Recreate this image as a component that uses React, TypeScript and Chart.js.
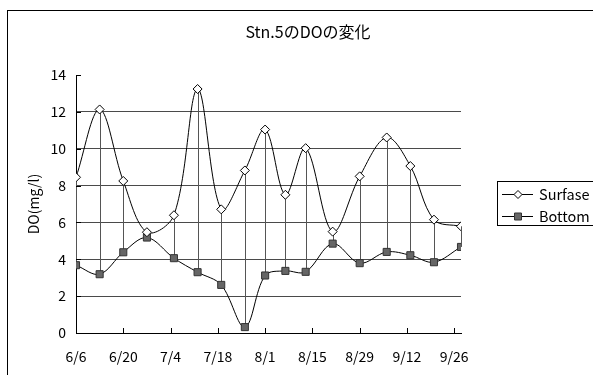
import { useEffect, useRef } from "react";
import { Chart, registerables } from "chart.js";

Chart.register(...registerables);

const TITLE = "Stn.5のDOの変化";
const Y_TITLE = "DO(mg/l)";
const SERIES_NAMES = ["Surfase", "Bottom"];

// sampling dates (month/day) and dissolved oxygen readings, mg/l
const sampleDates = ["6/6", "6/13", "6/20", "6/27", "7/5", "7/12", "7/19", "7/26", "8/1", "8/7", "8/13", "8/21", "8/29", "9/6", "9/13", "9/20", "9/28"];
const surfaceDO = [8.45, 12.13, 8.25, 5.47, 6.39, 13.24, 6.71, 8.82, 11.04, 7.5, 10.03, 5.5, 8.5, 10.61, 9.06, 6.15, 5.79];
const bottomDO = [3.68, 3.19, 4.38, 5.18, 4.06, 3.3, 2.61, 0.32, 3.12, 3.37, 3.32, 4.85, 3.79, 4.4, 4.22, 3.84, 4.67];

const xTickLabels = ["6/6", "6/20", "7/4", "7/18", "8/1", "8/15", "8/29", "9/12", "9/26"];
const Y_MIN = 0;
const Y_MAX = 14;
const Y_STEP = 2;

const FONT_FAMILY = "'Noto Sans CJK JP', 'Noto Sans', sans-serif";

// day offset from the first sampling date
const dayOf = (md: string) => {
  const [m, d] = md.split("/").map(Number);
  const [m0, d0] = sampleDates[0].split("/").map(Number);
  return Math.round((Date.UTC(2001, m - 1, d) - Date.UTC(2001, m0 - 1, d0)) / 86400000);
};

const toPoints = (values: number[]) => values.map((v, i) => ({ x: dayOf(sampleDates[i]), y: v }));

// vertical connectors between surface and bottom readings of each date
const dropLines = {
  id: "dropLines",
  beforeDatasetsDraw(chart: any) {
    const { ctx, scales } = chart;
    const xs = scales.x;
    const ys = scales.y;
    ctx.save();
    ctx.strokeStyle = "#555";
    ctx.lineWidth = 1;
    sampleDates.forEach((d, i) => {
      const x = Math.round(xs.getPixelForValue(dayOf(d))) + 0.5;
      ctx.beginPath();
      ctx.moveTo(x, ys.getPixelForValue(surfaceDO[i]));
      ctx.lineTo(x, ys.getPixelForValue(bottomDO[i]));
      ctx.stroke();
    });
    ctx.restore();
  },
};

// frame, inward tick marks, title and boxed legend
const decorations = {
  id: "decorations",
  beforeDraw(chart: any) {
    const { ctx } = chart;
    ctx.save();
    ctx.fillStyle = "#fff";
    ctx.fillRect(0, 0, chart.width, chart.height);
    ctx.strokeStyle = "#000";
    ctx.lineWidth = 1;
    ctx.strokeRect(7.5, 10.5, 800, 600);
    ctx.restore();
  },
  afterDraw(chart: any) {
    const { ctx, scales, chartArea } = chart;
    const xs = scales.x;
    const ys = scales.y;
    ctx.save();
    ctx.strokeStyle = "#000";
    ctx.lineWidth = 1;
    xs.ticks.forEach((t: any) => {
      const x = Math.round(xs.getPixelForValue(t.value)) + 0.5;
      ctx.beginPath();
      ctx.moveTo(x, chartArea.bottom);
      ctx.lineTo(x, chartArea.bottom - 5);
      ctx.stroke();
    });
    ys.ticks.forEach((t: any) => {
      const y = Math.round(ys.getPixelForValue(t.value)) + 0.5;
      ctx.beginPath();
      ctx.moveTo(chartArea.left, y);
      ctx.lineTo(chartArea.left + 5, y);
      ctx.stroke();
    });

    // title
    ctx.fillStyle = "#000";
    ctx.font = `16px ${FONT_FAMILY}`;
    ctx.textAlign = "center";
    ctx.textBaseline = "middle";
    ctx.fillText(TITLE, 308, 32);

    // legend
    ctx.strokeRect(497.5, 181.5, 130, 44);
    const rows = [194, 216];
    chart.data.datasets.forEach((ds: any, i: number) => {
      const y = rows[i] + 0.5;
      ctx.strokeStyle = "#000";
      ctx.beginPath();
      ctx.moveTo(502, y);
      ctx.lineTo(533, y);
      ctx.stroke();
      const mx = 518;
      ctx.fillStyle = ds.pointBackgroundColor;
      ctx.strokeStyle = ds.pointBorderColor;
      ctx.beginPath();
      if (ds.pointStyle === "rectRot") {
        const r = 4;
        ctx.moveTo(mx, y - r);
        ctx.lineTo(mx + r, y);
        ctx.lineTo(mx, y + r);
        ctx.lineTo(mx - r, y);
        ctx.closePath();
      } else {
        ctx.rect(mx - 3.5, y - 3.5, 7, 7);
      }
      ctx.fill();
      ctx.stroke();
      ctx.fillStyle = "#000";
      ctx.font = `14.5px ${FONT_FAMILY}`;
      ctx.textAlign = "left";
      ctx.textBaseline = "middle";
      ctx.fillText(ds.label, 539, y);
    });
    ctx.restore();
  },
};

export default function App() {
  const canvasRef = useRef<HTMLCanvasElement | null>(null);

  useEffect(() => {
    if (!canvasRef.current) return;
    const tickFont = { family: FONT_FAMILY, size: 14 };
    const chart = new Chart(canvasRef.current, {
      type: "line",
      data: {
        datasets: [
          {
            label: SERIES_NAMES[0],
            data: toPoints(surfaceDO),
            borderColor: "#000",
            borderWidth: 1,
            tension: 0.35,
            pointStyle: "rectRot",
            pointRadius: 4.5,
            pointBackgroundColor: "#fff",
            pointBorderColor: "#000",
            pointBorderWidth: 1,
          },
          {
            label: SERIES_NAMES[1],
            data: toPoints(bottomDO),
            borderColor: "#000",
            borderWidth: 1,
            tension: 0.35,
            pointStyle: "rect",
            pointRadius: 5,
            pointBackgroundColor: "#666",
            pointBorderColor: "#333",
            pointBorderWidth: 1,
          },
        ],
      },
      options: {
        animation: false,
        responsive: false,
        devicePixelRatio: 1,
        layout: { padding: { top: 75, right: 132, left: 0, bottom: 0 } },
        plugins: {
          legend: { display: false },
          title: { display: false },
          tooltip: { enabled: false },
        },
        scales: {
          x: {
            type: "linear",
            min: dayOf(sampleDates[0]),
            max: dayOf(sampleDates[sampleDates.length - 1]),
            afterBuildTicks: (scale: any) => {
              scale.ticks = xTickLabels.map((l) => ({ value: dayOf(l) }));
            },
            afterFit: (scale: any) => {
              scale.height = 42;
            },
            ticks: {
              autoSkip: false,
              maxRotation: 0,
              padding: 15,
              color: "#000",
              font: tickFont,
              callback: (v: any) => xTickLabels.find((l) => dayOf(l) === v) ?? "",
            },
            grid: { display: false, drawTicks: false },
            border: { color: "#000", width: 1 },
          },
          y: {
            min: Y_MIN,
            max: Y_MAX,
            afterFit: (scale: any) => {
              scale.width = 76;
            },
            ticks: { stepSize: Y_STEP, padding: 10, color: "#000", font: tickFont },
            grid: {
              drawTicks: false,
              color: (c: any) => (c.tick && (c.tick.value === Y_MIN || c.tick.value === Y_MAX) ? "rgba(0,0,0,0)" : "#4a4a4a"),
              lineWidth: 1,
            },
            border: { color: "#000", width: 1 },
            title: {
              display: true,
              text: Y_TITLE,
              color: "#000",
              font: tickFont,
              padding: { top: 25, bottom: 0 },
            },
          },
        },
      },
      plugins: [dropLines, decorations],
    } as any);
    return () => chart.destroy();
  }, []);

  return (
    <div style={{ position: "fixed", left: 0, top: 0, width: 593, height: 375, background: "#fff" }}>
      <canvas ref={canvasRef} width={593} height={375} style={{ display: "block" }} />
    </div>
  );
}
